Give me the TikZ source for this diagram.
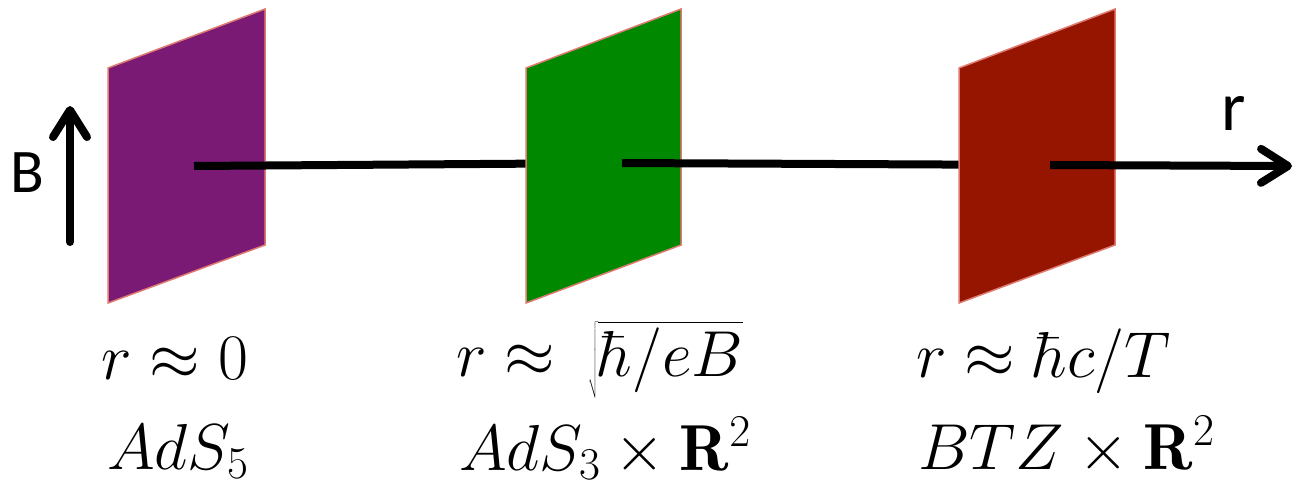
\RequirePackage{fix-cm}
\documentclass[tikz,border=0pt]{standalone}
\usepackage{fontspec}
\usepackage{graphicx}
\newfontfamily\carl{Carlito}
\usetikzlibrary{arrows.meta}
\definecolor{purp}{HTML}{7A1A75}
\definecolor{grn}{HTML}{008800}
\definecolor{rd}{HTML}{951500}
\definecolor{planeedge}{HTML}{E07A70}
\tikzset{
  plane/.style={draw=planeedge, line width=1.5pt, line join=miter},
  axisline/.style={line width=8pt, line cap=butt},
  barb/.style={-{Straight Barb[length=27pt,width=34pt,line cap=round,line join=round]}},
  mathlabel/.style={anchor=base west, inner sep=0pt, font=\fontsize{65}{78}\selectfont},
  sanslabel/.style={anchor=base west, inner sep=0pt}
}
\newcommand\tallsqrt[1]{\rlap{\raisebox{-3.5pt}{\scalebox{1}[1.15]{$\sqrt{\phantom{#1}}$}}}\hphantom{\sqrt{#1}}\llap{$#1$}}
\begin{document}
\begin{tikzpicture}[x=1pt,y=-1pt]
\useasboundingbox (0,0) rectangle (1297,485);
% centres and ends
\coordinate (pc) at (194,166);
\coordinate (gc) at (622,163);
\coordinate (rc) at (1050,165);
\coordinate (rend) at (1292,166);
\coordinate (bbot) at (70,242);
\coordinate (btop) at (70,106);
% purple plane
\path[plane, fill=purp] (108,68) -- (265,9) -- (265,245) -- (108,303) -- cycle;
\draw[axisline] (pc) -- (gc);
% green plane
\path[plane, fill=grn] (526,68) -- (681,9) -- (681,245) -- (526,303) -- cycle;
\draw[axisline] (gc) -- (rc);
% red plane
\path[plane, fill=rd] (959,68) -- (1115,9) -- (1115,245) -- (959,303) -- cycle;
\draw[axisline, barb] (rc) -- (rend);
% B arrow
\draw[axisline, line cap=round, barb] (bbot) -- (btop);
\node[sanslabel, font=\carl\fontsize{62}{74}\selectfont] (blab) at (10,192) {B};
\node[sanslabel, font=\carl\fontsize{70}{84}\selectfont] (rlab) at (1221,130) {r};
% labels
\node[mathlabel] (l1) at (101,379) {$r\approx 0$};
\node[mathlabel] (l2) at (107,469) {$AdS_5$};
\node[mathlabel] (l3) at (456,376) {$r\approx\mkern4mu \tallsqrt{\hbar/eB}$};
\node[mathlabel] (l4) at (459,470) {$AdS_3\times \mathbf{R}^2$};
\node[mathlabel] (l5) at (916,377) {$r\approx \hbar c/T$};
\node[mathlabel] (l6) at (918,469) {$BTZ\times \mathbf{R}^2$};
\end{tikzpicture}
\end{document}
